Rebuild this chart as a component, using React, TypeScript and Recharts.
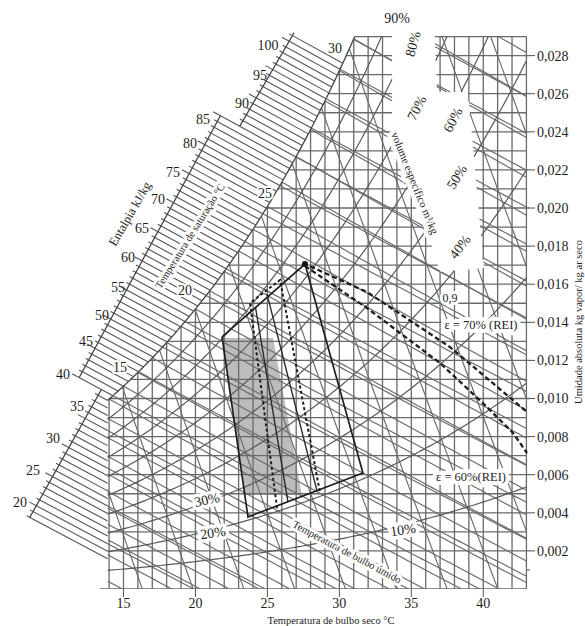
import React from "react";
import { ComposedChart, Line, Area, XAxis, YAxis, ReferenceDot } from "recharts";

// ---------------- data ----------------
// saturation vapour pressure table (kPa) at integer dry-bulb temperatures
const SAT_TEMP_C = [0,1,2,3,4,5,6,7,8,9,10,11,12,13,14,15,16,17,18,19,20,21,22,23,24,25,26,27,28,29,30,31,32,33,34,35,36,37,38,39,40,41,42,43,44,45];
const SAT_PRESSURE_KPA = [0.6113,0.6571,0.706,0.7581,0.8135,0.8726,0.9354,1.0021,1.073,1.1482,1.2282,1.3129,1.4028,1.4981,1.5989,1.7057,1.8188,1.9383,2.0647,2.1982,2.3392,2.4881,2.6452,2.8109,2.9856,3.1697,3.3637,3.5679,3.7828,4.0089,4.2467,4.4966,4.7592,5.0351,5.3247,5.6286,5.9475,6.2818,6.6324,6.9997,7.3844,7.7873,8.209,8.6503,9.1118,9.5944];

const DRY_BULB_TICKS = [15, 20, 25, 30, 35, 40];
const HUMIDITY_TICKS = [0.002,0.004,0.006,0.008,0.01,0.012,0.014,0.016,0.018,0.02,0.022,0.024,0.026,0.028];
const DRY_BULB_GRID = [14,15,16,17,18,19,20,21,22,23,24,25,26,27,28,29,30,31,32,33,34,35,36,37,38,39,40,41,42,43];
const HUMIDITY_GRID = [0.001,0.002,0.003,0.004,0.005,0.006,0.007,0.008,0.009,0.01,0.011,0.012,0.013,0.014,0.015,0.016,0.017,0.018,0.019,0.02,0.021,0.022,0.023,0.024,0.025,0.026,0.027,0.028,0.029];
const RH_CURVES = [0.1,0.2,0.3,0.4,0.5,0.6,0.7,0.8,0.9];
const WET_BULB_LINES = [5,6,7,8,9,10,11,12,13,14,15,16,17,18,19,20,21,22,23,24,25,26,27,28,29,30,31,32,33,34];
const ENTHALPY_LINES = [15,20,25,30,35,40,45,50,55,60,65,70,75,80,85,90,95,100,105,110];
const VOLUME_LINES = [0.82,0.83,0.84,0.85,0.86,0.87,0.88,0.89,0.9,0.91,0.92,0.93];
const ENTHALPY_SCALE_LABELS = [20,25,30,35,40,45,50,55,60,65,70,75,80,85,90,95,100];
const SATURATION_LABELS = [15, 20, 25, 30];

// comfort zone (shaded) : dry bulb, lower / upper humidity ratio
const SHADED_ZONE = [
  { T: 21.85, lo: 0.01318, hi: 0.01318 },
  { T: 23.44, lo: 0.00493, hi: 0.01318 },
  { T: 25.39, lo: 0.00493, hi: 0.01318 },
  { T: 27.40, lo: 0.00493, hi: 0.00493 },
];
const ZONE_OUTLINE = [
  { T: 21.85, w: 0.01323 },
  { T: 27.61, w: 0.01706 },
  { T: 31.64, w: 0.00609 },
  { T: 23.65, w: 0.00378 },
  { T: 21.85, w: 0.01323 },
];
const ZONE_INNER = [
  { T: 24.17, w: 0.0148 },
  { T: 26.43, w: 0.00457 },
  { T: 26.43, w: null },
  { T: 24.97, w: 0.01549 },
  { T: 28.45, w: 0.00514 },
];
const ZONE_DASHED = [
  { T: 25.67, w: 0.00425 },
  { T: 23.79, w: 0.01501 },
  { T: 25.88, w: 0.01622 },
  { T: 28.66, w: 0.00504 },
];
const REI_70 = [
  { T: 27.47, w: 0.01711 },
  { T: 31.92, w: 0.01559 },
  { T: 37.69, w: 0.0127 },
  { T: 43.04, w: 0.00929 },
];
const REI_60 = [
  { T: 27.61, w: 0.01696 },
  { T: 31.92, w: 0.01475 },
  { T: 37.0, w: 0.01186 },
  { T: 40.26, w: 0.00955 },
  { T: 42.07, w: 0.00819 },
  { T: 43.04, w: 0.00714 },
];
const APEX = { T: 27.61, w: 0.01706 };

// ---------------- layout / scales ----------------
const W = 585;
const H = 626;
const AXIS_W = 55;
const AXIS_H = 37;
const PX_PER_C = 14.39;
const X15 = 123.5;
const PX_PER_W = 19050;
const Y0 = H - AXIS_H;
const toT = (x: number) => 15 + (x - X15) / PX_PER_C;
const toW = (y: number) => (Y0 - y) / PX_PER_W;
const toX = (T: number) => X15 + (T - 15) * PX_PER_C;
const toY = (w: number) => Y0 - w * PX_PER_W;
const T_MIN = toT(0);
const T_MAX = toT(W - AXIS_W);
const W_MAX = toW(0);

const T_LEFT = 13.9;
const T_RIGHT = 43.0;
const W_TOP = 0.029;
const P_ATM = 101.325;

const SERIF = '"Liberation Serif", "Times New Roman", serif';

// ---------------- psychrometrics ----------------
function psat(T: number): number {
  const n = SAT_PRESSURE_KPA.length;
  const i = Math.max(0, Math.min(n - 2, Math.floor(T - SAT_TEMP_C[0])));
  const f = (T - SAT_TEMP_C[i]) / (SAT_TEMP_C[i + 1] - SAT_TEMP_C[i]);
  return Math.exp(Math.log(SAT_PRESSURE_KPA[i]) * (1 - f) + Math.log(SAT_PRESSURE_KPA[i + 1]) * f);
}
const wRH = (T: number, phi: number) => {
  const p = phi * psat(T);
  return (0.622 * p) / (P_ATM - p);
};
const wSat = (T: number) => wRH(T, 1);
const hOf = (T: number, w: number) => 1.006 * T + w * (2501 + 1.86 * T);
const wOfH = (T: number, h: number) => (h - 1.006 * T) / (2501 + 1.86 * T);
const wWB = (T: number, tw: number) =>
  ((2501 - 2.326 * tw) * wSat(tw) - 1.006 * (T - tw)) / (2501 + 1.86 * T - 4.186 * tw);
const tOfV = (w: number, v: number) => (v * P_ATM) / (0.287042 * (1 + 1.6078 * w)) - 273.15;

function bisect(f: (x: number) => number, a: number, b: number): number {
  let fa = f(a);
  for (let k = 0; k < 60; k++) {
    const m = (a + b) / 2;
    const fm = f(m);
    if ((fm > 0) === (fa > 0)) {
      a = m;
      fa = fm;
    } else b = m;
  }
  return (a + b) / 2;
}
const tDew = (w: number) => bisect((T) => wSat(T) - w, -10, 60);

// blank gap in the chart lines around the RH / volume labels (pixel outline)
const LABEL_GAP_PX: [number, number][] = [
  [392, 20], [434, 20], [437, 92], [468, 92], [484, 268], [440, 272], [395, 130], [392, 130],
];
function inPoly(x: number, y: number, poly: [number, number][]) {
  let c = false;
  for (let i = 0, j = poly.length - 1; i < poly.length; j = i++) {
    const [xi, yi] = poly[i];
    const [xj, yj] = poly[j];
    if (yi > y !== yj > y && x < ((xj - xi) * (y - yi)) / (yj - yi) + xi) c = !c;
  }
  return c;
}
const inGap = (T: number, w: number) => inPoly(toX(T), toY(w), LABEL_GAP_PX);

const inside = (T: number, w: number) =>
  T >= T_LEFT - 1e-9 && T <= T_RIGHT + 1e-9 && w >= -1e-9 && w <= W_TOP + 1e-12 && w <= wSat(T) + 1e-9 && !inGap(T, w);
const insideWide = (T: number, w: number) =>
  T >= T_LEFT - 1e-9 && T <= T_MAX + 1e-9 && w >= -1e-9 && w <= W_TOP + 1e-12 && w <= wSat(T) + 1e-9 && !inGap(T, w);

type XY = [number, number];
function clip(fn: (s: number) => XY, s0: number, s1: number, n = 60, pred = inside): XY[][] {
  const segs: XY[][] = [];
  let cur: XY[] | null = null;
  const isIn = (s: number) => {
    const [T, w] = fn(s);
    return pred(T, w);
  };
  let prevS = s0;
  let prevIn = isIn(s0);
  if (prevIn) cur = [fn(s0)];
  for (let k = 1; k <= n; k++) {
    const s = s0 + ((s1 - s0) * k) / n;
    const ins = isIn(s);
    if (ins !== prevIn) {
      let a = prevS;
      let b = s;
      for (let j = 0; j < 40; j++) {
        const m = (a + b) / 2;
        if (isIn(m) === prevIn) a = m;
        else b = m;
      }
      if (prevIn) {
        if (cur) {
          cur.push(fn(a));
          segs.push(cur);
        }
        cur = null;
      } else cur = [fn(b)];
    }
    if (ins && cur) cur.push(fn(s));
    prevS = s;
    prevIn = ins;
  }
  if (cur && cur.length > 1) segs.push(cur);
  return segs;
}

type Pt = { T: number; w: number | null };
function flatten(segs: XY[][]): Pt[] {
  const out: Pt[] = [];
  segs.forEach((seg) => {
    seg.forEach(([T, w]) => out.push({ T, w }));
    out.push({ T: seg[seg.length - 1][0], w: null });
  });
  return out;
}

// ---------------- families ----------------
const verticalData = flatten(
  DRY_BULB_GRID.flatMap((T) => clip((s) => [T, s], 0, Math.min(wSat(T), W_TOP) - 1e-9, 80))
);
const horizontalData = flatten([
  [[toT(100), 0], [T_RIGHT, 0]] as XY[],
  ...HUMIDITY_GRID.flatMap((w) => {
    const labelled = Math.round(w * 1000) % 2 === 0;
    const t0 = Math.max(T_LEFT, tDew(w) + 1e-6);
    return clip((s) => [s, w], t0, labelled ? T_MAX : T_RIGHT, 80, insideWide);
  }),
]);
const rhData = flatten(RH_CURVES.flatMap((phi) => clip((T) => [T, wRH(T, phi)], T_LEFT, T_RIGHT, 160)));
const satData = flatten(clip((T) => [T, wSat(T) - 1e-10], T_LEFT, tDew(W_TOP) - 1e-6, 120));
const wetBulbData = flatten(
  WET_BULB_LINES.flatMap((tw) => clip((T) => [T, wWB(T, tw)], Math.max(T_LEFT, tw), T_RIGHT, 80))
);
const enthalpyData = flatten(ENTHALPY_LINES.flatMap((h) => clip((T) => [T, wOfH(T, h)], T_LEFT, T_RIGHT, 80)));
const volumeData = flatten(VOLUME_LINES.flatMap((v) => clip((w) => [tOfV(w, v), w], 0, W_TOP, 80)));

// enthalpy scale (three broken segments)
type Seg = { a: XY; b: XY };
const SCALE_LOWER: Seg = { a: [toT(30), toW(517)], b: [toT(100), toW(392)] };
const SCALE_MIDDLE: Seg = { a: [toT(79), toW(378)], b: [toT(217), toW(122)] };
const SCALE_UPPER: Seg = { a: [toT(255), toW(100)], b: [toT(287), toW(45)] };
const segFor = (h: number) => (h < 40 ? SCALE_LOWER : h <= 85 ? SCALE_MIDDLE : SCALE_UPPER);
function scalePoint(seg: Seg, h: number): XY {
  const P = (u: number): XY => [seg.a[0] + u * (seg.b[0] - seg.a[0]), seg.a[1] + u * (seg.b[1] - seg.a[1])];
  const u = bisect((u) => hOf(...P(u)) - h, -3, 4);
  return P(u);
}
const HATCH_RANGE = Array.from({ length: 101 - 18 + 1 }, (_, i) => 18 + i);
const hatchSegs: XY[][] = HATCH_RANGE.map((h) => {
  const s = scalePoint(segFor(h), h);
  const tOut = s[0] - (h % 5 === 0 ? 0.5 : 0.22);
  const start: XY = [tOut, wOfH(tOut, h)];
  let end: XY;
  if (h < 40) end = [T_LEFT, wOfH(T_LEFT, h)];
  else {
    const Ts = bisect((T) => wOfH(T, h) - wSat(T), 0, 40);
    end = [Ts, wSat(Ts)];
  }
  return [start, end];
});
const hatchData = flatten(hatchSegs);
const scaleLineData = flatten([
  [scalePoint(SCALE_LOWER, 18), scalePoint(SCALE_LOWER, 40)],
  [scalePoint(SCALE_MIDDLE, 40), scalePoint(SCALE_MIDDLE, 85)],
  [scalePoint(SCALE_UPPER, 85), scalePoint(SCALE_UPPER, 101.5)],
]);

// ---------------- annotations (pixel anchors) ----------------
type Ann = { text: string; x: number; y: number; rot?: number; size: number; halo?: number };
const ENTHALPY_LABEL_PX: Record<number, [number, number]> = {
  20: [20, 502], 25: [33, 470], 30: [53, 438], 35: [77, 406], 40: [63, 374], 45: [86, 341],
  50: [102, 315], 55: [118, 287], 60: [128, 257], 65: [142, 228], 70: [158, 199], 75: [173, 172],
  80: [190, 143], 85: [203, 119], 90: [242, 103], 95: [260, 75], 100: [268, 45],
};
const SATURATION_LABEL_PX: Record<number, [number, number]> = {
  15: [120, 367], 20: [185, 290], 25: [265, 193], 30: [335, 48],
};
const ANNOTATIONS: Ann[] = [
  ...ENTHALPY_SCALE_LABELS.map((h) => ({ text: String(h), x: ENTHALPY_LABEL_PX[h][0], y: ENTHALPY_LABEL_PX[h][1], size: 14 })),
  ...SATURATION_LABELS.map((t) => ({ text: String(t), x: SATURATION_LABEL_PX[t][0], y: SATURATION_LABEL_PX[t][1], size: 14, halo: 4 })),
  { text: "90%", x: 397, y: 18, size: 14, halo: 6 },
  { text: "80%", x: 413, y: 44, rot: -75, size: 14, halo: 7 },
  { text: "70%", x: 417, y: 108, rot: -62, size: 14, halo: 7 },
  { text: "60%", x: 453, y: 120, rot: -62, size: 14, halo: 7 },
  { text: "50%", x: 457, y: 177, rot: -58, size: 14, halo: 7 },
  { text: "40%", x: 460, y: 247, rot: -52, size: 14, halo: 7 },
  { text: "30%", x: 207, y: 500, rot: -12, size: 14, halo: 7 },
  { text: "20%", x: 213, y: 533, rot: -8, size: 14, halo: 7 },
  { text: "10%", x: 403, y: 530, rot: -8, size: 14, halo: 8 },
  { text: "0,9", x: 450, y: 298, size: 12, halo: 6 },
  { text: "ε = 70% (REI)", x: 481, y: 325, size: 12.5, halo: 8 },
  { text: "ε = 60%(REI)", x: 471, y: 477, size: 12.5, halo: 8 },
  { text: "volume específico m³/kg", x: 415, y: 183, rot: 68, size: 11, halo: 9 },
  { text: "Temperatura de bulbo úmido", x: 347, y: 552, rot: 28, size: 10.5, halo: 6 },
  { text: "Temperatura de saturação °C", x: 190, y: 236, rot: -58, size: 10.5, halo: 6 },
  { text: "Entalpia  kJ/kg", x: 130, y: 214, rot: -60, size: 12.5 },
  { text: "Temperatura de bulbo seco  °C", x: 331, y: 620, size: 10.5 },
  { text: "Umidade absoluta kg vapor/ kg ar seco", x: 578, y: 322, rot: -90, size: 10.5 },
];

function textShape(text: string, size: number, rot = 0, halo = 0) {
  return (p: any) => (
    <text
      x={0}
      y={0}
      transform={`translate(${p.cx},${p.cy}) rotate(${rot})`}
      textAnchor="middle"
      dominantBaseline="central"
      fontFamily={SERIF}
      fontSize={size}
      fill="#1e1e1e"
      stroke={halo ? "#ffffff" : "none"}
      strokeWidth={halo}
      strokeLinejoin="round"
      paintOrder="stroke"
    >
      {text}
    </text>
  );
}

const GRID = "#6a6a6a";
const lineProps = {
  dot: false,
  activeDot: false,
  isAnimationActive: false,
  connectNulls: false,
  type: "linear" as const,
  dataKey: "w",
};

export default function App() {
  return (
    <div style={{ position: "absolute", left: 0, top: 0, width: W, height: H, background: "#fff" }}>
      <ComposedChart width={W} height={H} margin={{ top: 0, right: 0, bottom: 0, left: 0 }}>
        <XAxis
          dataKey="T"
          type="number"
          domain={[T_MIN, T_MAX]}
          allowDataOverflow
          ticks={DRY_BULB_TICKS}
          height={AXIS_H}
          axisLine={false}
          tickSize={8}
          tickMargin={1}
          tickLine={{ stroke: "#555" }}
          tick={{ fontFamily: SERIF, fontSize: 14, fill: "#1e1e1e" }}
        />
        <YAxis
          type="number"
          orientation="right"
          domain={[0, W_MAX]}
          allowDataOverflow
          ticks={HUMIDITY_TICKS}
          width={AXIS_W}
          axisLine={false}
          tickSize={5}
          tickMargin={2}
          tickLine={{ stroke: "#555" }}
          tickFormatter={(v: number) => v.toFixed(3).replace(".", ",")}
          tick={{ fontFamily: SERIF, fontSize: 14, fill: "#1e1e1e", textAnchor: "start" }}
        />
        <Area
          data={SHADED_ZONE}
          dataKey={(d: any) => [d.lo, d.hi]}
          type="linear"
          stroke="none"
          fill="#bcbcbc"
          fillOpacity={1}
          isAnimationActive={false}
          dot={false}
          activeDot={false}
        />
        <Line {...lineProps} data={verticalData} stroke={GRID} strokeWidth={1.3} />
        <Line {...lineProps} data={horizontalData} stroke={GRID} strokeWidth={1.3} />
        <Line {...lineProps} data={wetBulbData} stroke={GRID} strokeWidth={1.15} />
        <Line {...lineProps} data={enthalpyData} stroke={GRID} strokeWidth={1.15} />
        <Line {...lineProps} data={volumeData} stroke={GRID} strokeWidth={1.15} />
        <Line {...lineProps} data={rhData} stroke="#5a5a5a" strokeWidth={1.2} />
        <Line {...lineProps} data={satData} stroke="#444" strokeWidth={1.3} />
        <Line {...lineProps} data={hatchData} stroke="#555" strokeWidth={1.1} />
        <Line {...lineProps} data={scaleLineData} stroke="#444" strokeWidth={1.3} />
        <Line {...lineProps} data={ZONE_INNER} stroke="#2a2a2a" strokeWidth={1.4} />
        <Line {...lineProps} data={ZONE_OUTLINE} stroke="#1e1e1e" strokeWidth={1.7} />
        <Line {...lineProps} data={ZONE_DASHED} stroke="#1e1e1e" strokeWidth={2} strokeDasharray="3 2.5" />
        <Line {...lineProps} data={REI_70} stroke="#1e1e1e" strokeWidth={2.3} strokeDasharray="5 3" />
        <Line {...lineProps} data={REI_60} stroke="#1e1e1e" strokeWidth={2.3} strokeDasharray="5 3" />
        <ReferenceDot x={APEX.T} y={APEX.w} r={3} fill="#111" stroke="none" ifOverflow="visible" />
        {ANNOTATIONS.map((a, i) => (
          <ReferenceDot
            key={"a" + i}
            x={toT(a.x)}
            y={toW(a.y)}
            r={0}
            ifOverflow="visible"
            zIndex={2000}
            shape={textShape(a.text, a.size, a.rot || 0, a.halo || 0)}
          />
        ))}
      </ComposedChart>
    </div>
  );
}
